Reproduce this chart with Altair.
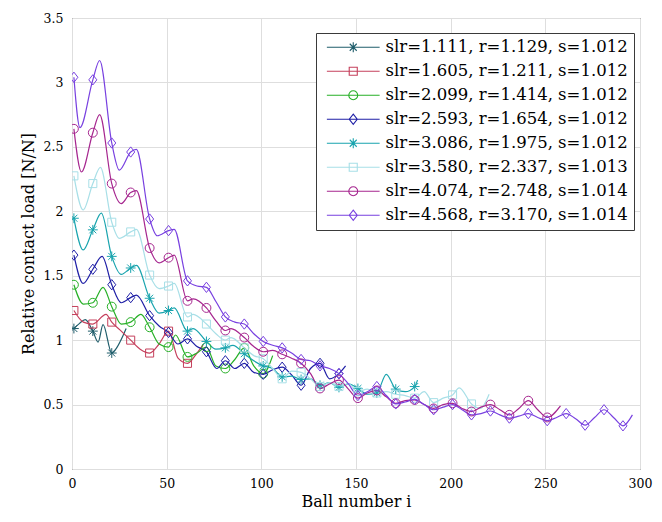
import altair as alt
import pandas as pd

labels = [
    "slr=1.111, r=1.129, s=1.012",
    "slr=1.605, r=1.211, s=1.012",
    "slr=2.099, r=1.414, s=1.012",
    "slr=2.593, r=1.654, s=1.012",
    "slr=3.086, r=1.975, s=1.012",
    "slr=3.580, r=2.337, s=1.013",
    "slr=4.074, r=2.748, s=1.014",
    "slr=4.568, r=3.170, s=1.014",
]
colors = ["#1f5d6b", "#c5405c", "#27b027", "#1f1fa6", "#19a4ae", "#a8dfe7", "#a6268f", "#7840e0"]

x1 = [1, 4, 7, 11, 13.8, 16.4, 21, 24, 26.8, 28.6]
y1 = [1.09, 1.13, 1.16, 1.07, 0.985, 1.12, 0.90, 0.95, 1.03, 1.09]

x2 = [1, 6, 11, 18, 21, 26, 31, 36, 41, 46, 51, 56, 61, 66, 69.5]
y2 = [1.23, 1.14, 1.125, 1.20, 1.14, 1.07, 1.00, 0.93, 0.90, 0.97, 1.07, 0.86, 0.82, 0.90, 0.97]

x3 = [1, 6, 11, 16.4, 21, 26, 31, 36.4, 41, 46, 51, 54.7, 61, 66, 71, 76, 81, 86, 91, 96, 101, 106]
y3 = [1.43, 1.28, 1.29, 1.41, 1.26, 1.125, 1.14, 1.20, 1.10, 0.97, 0.946, 1.04, 0.87, 0.90, 0.946, 0.80, 0.78, 0.85, 0.94, 0.80, 0.74, 0.88]

x4 = [1, 5.9, 11, 15.9, 21, 26, 31, 34, 41, 46,
      51, 56, 61, 66, 71, 76.5, 81, 86, 91, 96,
      101, 106, 111, 116, 121, 126, 131, 136, 141, 144.5]
y4 = [1.66, 1.44, 1.55, 1.65, 1.43, 1.29, 1.33, 1.35, 1.19, 1.11,
      1.06, 0.97, 1.01, 0.95, 0.91, 0.78, 0.84, 0.78, 0.82, 0.75,
      0.735, 0.77, 0.79, 0.73, 0.65, 0.78, 0.82, 0.70, 0.74, 0.80]

x5 = [1, 5.9, 11, 15.5, 21, 26, 31, 34, 41, 46, 51, 54, 61, 64, 71, 76, 81, 85, 91, 96,
      101, 106, 111, 116, 121, 126, 131, 136, 141, 146, 151, 156, 161, 166, 171, 176, 181, 182.5]
y5 = [1.946, 1.70, 1.856, 1.985, 1.65, 1.51, 1.56, 1.58, 1.325, 1.21, 1.23, 1.25, 1.07, 1.09, 0.99, 0.93, 0.94, 0.96, 0.895, 0.84,
      0.80, 0.78, 0.715, 0.72, 0.695, 0.70, 0.65, 0.67, 0.633, 0.66, 0.625, 0.58, 0.59, 0.735, 0.62, 0.60, 0.64, 0.69]

x6 = [1, 5.9, 11, 15, 21, 25, 31, 34, 41, 46, 51, 54, 61, 64, 71, 76, 81, 84, 91, 96,
      101, 106, 111, 116, 121, 126, 131, 136, 141, 146, 151, 156, 161, 166, 171, 176, 181, 186, 191, 196, 201,
      204.5, 211, 215.7, 220.3]
y6 = [2.275, 2.01, 2.215, 2.34, 1.915, 1.79, 1.84, 1.86, 1.505, 1.40, 1.42, 1.44, 1.18, 1.20, 1.125, 1.05, 1.00, 1.02, 0.94, 0.88,
      0.856, 0.78, 0.70, 0.76, 0.75, 0.70, 0.64, 0.67, 0.64, 0.66, 0.60, 0.62, 0.59, 0.60, 0.58, 0.57, 0.55, 0.60, 0.515, 0.55, 0.575,
      0.63, 0.505, 0.47, 0.58]

x7 = [1, 5, 11, 14.6, 21, 26, 31, 34, 41, 46, 51, 54,
      61, 64, 71, 76, 81, 84, 91, 96, 101, 106,
      111, 116, 121, 126, 131, 136, 141, 146, 151, 156,
      161, 166, 171, 176, 181, 186, 191, 196, 201, 206,
      211, 216, 221, 226, 231, 236, 241, 246, 251, 258]
y7 = [2.64, 2.305, 2.61, 2.75, 2.215, 2.06, 2.146, 2.16, 1.715, 1.60, 1.64, 1.66,
      1.305, 1.32, 1.25, 1.15, 1.075, 1.09, 1.02, 0.95, 0.91, 0.92,
      0.89, 0.86, 0.82, 0.74, 0.625, 0.66, 0.69, 0.62, 0.55, 0.59,
      0.61, 0.56, 0.51, 0.53, 0.536, 0.50, 0.47, 0.50, 0.51, 0.47,
      0.446, 0.48, 0.50, 0.46, 0.42, 0.47, 0.53, 0.46, 0.40, 0.49]

x8 = [1, 4.2, 11, 14.6, 21, 25, 31, 34, 41, 45, 51, 54,
      61, 66, 71, 76, 81, 86, 91, 96, 101, 106,
      111, 116, 121, 126, 131, 136, 141, 146, 151, 156,
      161, 166, 171, 176, 181, 186, 191, 196, 201, 206,
      211, 216, 221, 226, 231, 236, 241, 246, 251, 256,
      261, 266, 271, 276, 281, 286, 291, 296]
y8 = [3.04, 2.65, 3.02, 3.17, 2.53, 2.32, 2.46, 2.48, 1.94, 1.81, 1.85, 1.86,
      1.46, 1.42, 1.41, 1.30, 1.18, 1.14, 1.125, 1.05, 0.99, 0.96,
      0.94, 0.90, 0.85, 0.84, 0.80, 0.78, 0.74, 0.66, 0.57, 0.60,
      0.64, 0.57, 0.505, 0.52, 0.54, 0.50, 0.46, 0.48, 0.50, 0.46,
      0.42, 0.43, 0.45, 0.42, 0.395, 0.41, 0.43, 0.40, 0.375, 0.40,
      0.43, 0.39, 0.34, 0.40, 0.46, 0.40, 0.335, 0.42]

x_ticks = [0, 50, 100, 150, 200, 250, 300]
y_ticks = [0, 0.5, 1, 1.5, 2, 2.5, 3, 3.5]

xs_all = [x1, x2, x3, x4, x5, x6, x7, x8]
ys_all = [y1, y2, y3, y4, y5, y6, y7, y8]

rows = []
for i, (lab, xs, ys) in enumerate(zip(labels, xs_all, ys_all)):
    assert len(xs) == len(ys), lab
    for xv, yv in zip(xs, ys):
        is_marker = float(xv).is_integer() and (int(xv) - 1) % 10 == 0
        rows.append({"label": lab, "k": i, "x": xv, "y": yv, "marker": is_marker})
df = pd.DataFrame(rows)
legend_df = pd.DataFrame({"label": labels, "x": [-100] * 8, "y": [-1] * 8})

AST = "M0,-1.1L0,1.1M-1.1,0L1.1,0M-0.78,-0.78L0.78,0.78M-0.78,0.78L0.78,-0.78"
SQR = "M-0.9,-0.9L0.9,-0.9L0.9,0.9L-0.9,0.9Z"
CIR = "M1,0A1,1,0,1,1,-1,0A1,1,0,1,1,1,0Z"
DIA = "M0,-1.15L0.9,0L0,1.15L-0.9,0Z"
marker_shapes = [AST, SQR, CIR, DIA, AST, SQR, CIR, DIA]
LINE = "M-5.9,0L5.9,0"
legend_shapes = [LINE + s for s in marker_shapes]

FONT = "DejaVu Serif"

xscale = alt.Scale(domain=[0, 300], nice=False, zero=False)
yscale = alt.Scale(domain=[0, 3.5], nice=False)

xenc = alt.X("x:Q", scale=xscale, axis=alt.Axis(
    values=x_ticks, title="Ball number i", grid=True, gridColor="#dedede",
    ticks=False, domain=False, labelFlush=False, labelFont=FONT, labelFontSize=12.5,
    labelColor="black", labelPadding=8, titleFont=FONT, titleFontSize=16,
    titleFontWeight="normal", titleColor="black", titlePadding=4))
yenc = alt.Y("y:Q", scale=yscale, axis=alt.Axis(
    values=y_ticks, labelExpr="'' + datum.value", title="Relative contact load [N/N]",
    grid=True, gridColor="#dedede", ticks=False, domain=False, labelFlush=False,
    labelFont=FONT, labelFontSize=12.5, labelColor="black", labelPadding=9, titleFont=FONT,
    titleFontSize=16, titleFontWeight="normal", titleColor="black", titlePadding=7))

color_scale = alt.Scale(domain=labels, range=colors)

leg = alt.Legend(
    title=None, orient="none", legendX=244, legendY=15, fillColor="white",
    strokeColor="#3a3a3a", padding=6, rowPadding=7, labelFont=FONT, labelFontSize=16.5,
    labelColor="black", labelLimit=400, symbolSize=80, symbolStrokeWidth=1.1,
    symbolOffset=23, labelOffset=24)

lines = alt.Chart(df).mark_line(interpolate="monotone", strokeWidth=1.2, clip=True).encode(
    x=xenc, y=yenc,
    color=alt.Color("label:N", scale=color_scale, legend=None),
    detail="label:N",
    order=alt.Order("x:Q"),
)

markers = alt.Chart(df).transform_filter(alt.datum.marker).mark_point(
    filled=False, strokeWidth=1, size=80, clip=True, opacity=1).encode(
    x=xenc, y=yenc,
    color=alt.Color("label:N", scale=color_scale, legend=None),
    shape=alt.Shape("label:N", scale=alt.Scale(domain=labels, range=marker_shapes), legend=None),
)

legend_layer = alt.Chart(legend_df).mark_point(filled=False, strokeWidth=1, size=80, clip=True, opacity=1).encode(
    x=xenc, y=yenc,
    color=alt.Color("label:N", scale=color_scale, legend=leg),
    shape=alt.Shape("label:N", scale=alt.Scale(domain=labels, range=legend_shapes), legend=leg),
)

chart = alt.layer(lines, markers, legend_layer).resolve_scale(
    color="independent", shape="independent"
).properties(
    width=568, height=451,
    autosize=alt.AutoSizeParams(type="none"),
    padding={"left": 64, "top": 10, "right": 14, "bottom": 45},
).configure_view(stroke="#262626", strokeWidth=1)

chart.save("out.html", embed_options={"renderer": "svg", "actions": False})
